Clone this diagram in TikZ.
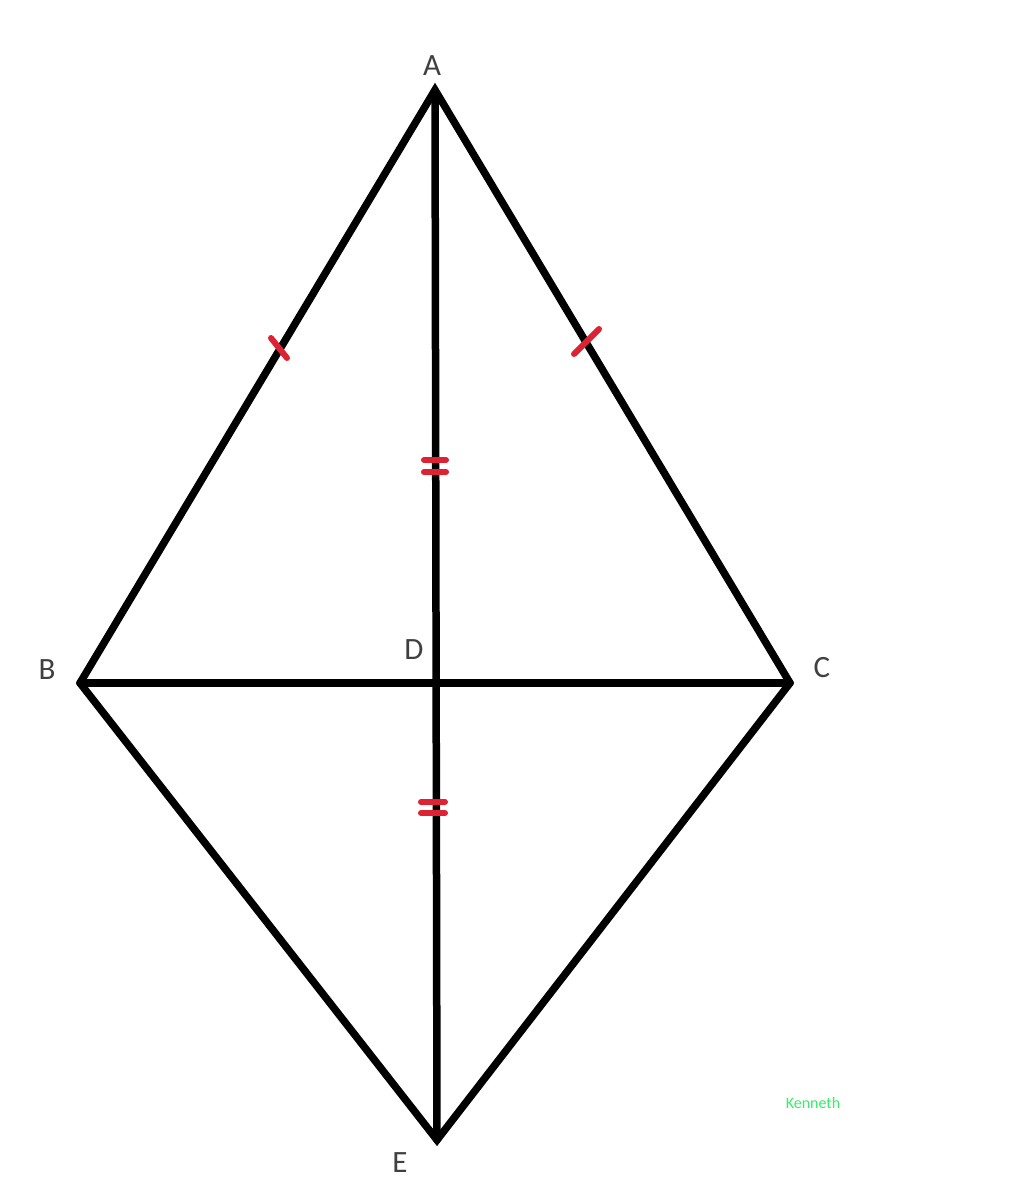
\documentclass[tikz,border=0pt]{standalone}
\usepackage{fontspec}
\setmainfont{Carlito}
\definecolor{tickred}{HTML}{DD2233}
\definecolor{sig}{HTML}{33EE66}
\tikzset{
  seg/.style={line width=7.5pt, line cap=round, line join=miter, black},
  tickmark/.style={line width=6pt, line cap=round, tickred},
  lbl/.style={font=\fontsize{31}{31}\selectfont, text=black!75},
}
\begin{document}
\begin{tikzpicture}[x=1pt,y=-1pt]
\useasboundingbox (0,0) rectangle (1024,1180);
\fill[white] (0,0) rectangle (1024,1180);
\coordinate (A) at (435,90);
\coordinate (B) at (80,683);
\coordinate (C) at (790,683);
\coordinate (D) at (435,683);
\coordinate (E) at (437,1140);
\draw[seg] (B) -- (A) -- (C);
\draw[seg] (B) -- (E) -- (C);
\draw[seg] (A) -- (E);
\draw[seg] (B) -- (C);
% ticks
\coordinate (t1a) at (271,338);
\coordinate (t1b) at (287,358);
\draw[tickmark] (t1a) -- (t1b);
\coordinate (t2a) at (599,329);
\coordinate (t2b) at (574,354);
\draw[tickmark] (t2a) -- (t2b);
\coordinate (t3a) at (424,460);
\coordinate (t3b) at (446,460);
\coordinate (t4a) at (424,472);
\coordinate (t4b) at (446,472);
\draw[tickmark] (t3a) -- (t3b);
\draw[tickmark] (t4a) -- (t4b);
\coordinate (t5a) at (421,802);
\coordinate (t5b) at (445,802);
\coordinate (t6a) at (421,813);
\coordinate (t6b) at (445,813);
\draw[tickmark] (t5a) -- (t5b);
\draw[tickmark] (t6a) -- (t6b);
% labels
\node[lbl] (lA) at (432,66) {A};
\node[lbl] (lB) at (47,670) {B};
\node[lbl] (lC) at (822,668) {C};
\node[lbl] (lD) at (414,650) {D};
\node[lbl] (lE) at (400,1163) {E};
\node[font=\fontsize{16}{16}\selectfont, text=sig] (sig) at (813,1103) {Kenneth};
\end{tikzpicture}
\end{document}
